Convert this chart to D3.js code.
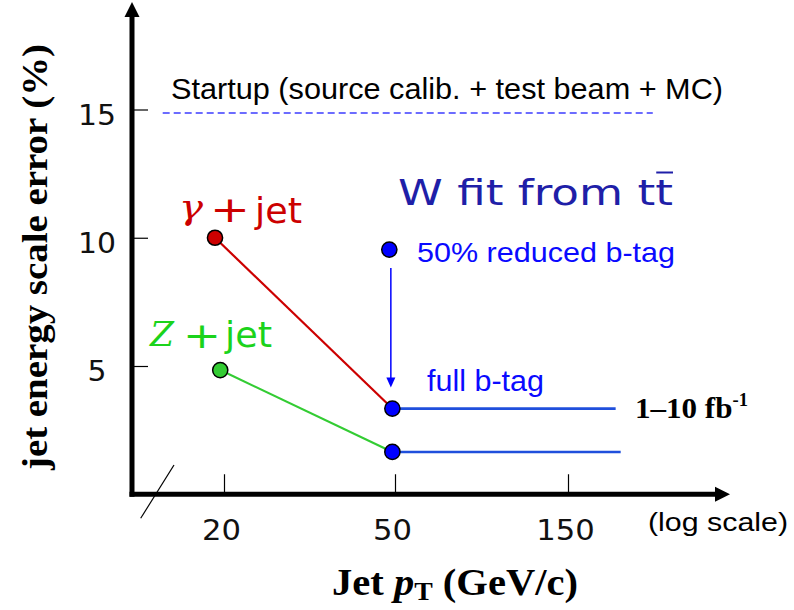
<!DOCTYPE html>
<html><head><meta charset="utf-8">
<script src="https://cdn.jsdelivr.net/npm/d3@7"></script>
<style>body{margin:0;background:#fff} svg{display:block}</style>
</head><body>
<svg id="chart" width="794" height="610"></svg>
<script>
// ---- data ----
const xTicks = [20, 50, 150];
const yTicks = [5, 10, 15];
const gammaPt = [19.06, 49.3];
const gammaErr = [10.0, 3.34];
const zPt = [19.6, 49.3];
const zErr = [4.84, 1.65];
const wFullPt = [49.3, 203];
const wFullErr = [3.34, 3.34];
const wLowPt = [49.3, 209.6];
const wLowErr = [1.65, 1.65];
const wReducedPt = [48.5];
const wReducedErr = [9.54];
const startupPt = [14.4, 257];
const startupErr = [14.86, 14.86];

const svg = d3.select("#chart");
const x = d3.scaleLog().domain(xTicks).range([224, 395, 568]);
const y = d3.scaleLinear().domain([0, 15]).range([494.25, 109.5]);
const ax0 = 132;          // y-axis position
const ay0 = y(0);         // x-axis position
const zip = (a, b) => a.map((v, i) => [v, b[i]]);
const line = d3.line().x(d => x(d[0])).y(d => y(d[1]));

// ---- axes ----
const yAxis = d3.axisLeft(y).tickValues(yTicks).tickSize(-16).tickFormat(d3.format("d"));
const gy = svg.append("g").attr("transform", `translate(${ax0},0)`).call(yAxis);
gy.select(".domain").remove();
gy.selectAll(".tick line").attr("stroke", "#000").attr("stroke-width", 1.2);
gy.selectAll(".tick text")
  .attr("x", -35).attr("dy", 0).attr("y", 14.5)
  .attr("text-anchor", "middle")
  .style("font-family", "'DejaVu Sans'").style("font-size", "28px").style("font-weight", "normal")
  .attr("fill", "#111")
  .attr("textLength", d => String(d).length * 19).attr("lengthAdjust", "spacingAndGlyphs");

const xAxis = d3.axisBottom(x).tickValues(xTicks).tickSize(-20).tickFormat(d3.format("d"));
const gx = svg.append("g").attr("transform", `translate(0,${ay0})`).call(xAxis);
gx.select(".domain").remove();
gx.selectAll(".tick line").attr("stroke", "#000").attr("stroke-width", 1.2);
gx.selectAll(".tick text")
  .attr("y", 46).attr("dy", 0).attr("dx", -3)
  .style("font-family", "'DejaVu Sans'").style("font-size", "28px").style("font-weight", "normal")
  .attr("fill", "#111")
  .attr("textLength", d => String(d).length * 19.5).attr("lengthAdjust", "spacingAndGlyphs");

// thick axis lines with arrowheads
svg.append("line").attr("x1", ax0).attr("x2", ax0).attr("y1", ay0 + 2.5).attr("y2", 16)
  .attr("stroke", "#000").attr("stroke-width", 5);
svg.append("path").attr("d", `M${ax0 - 7.5},17 L${ax0},2 L${ax0 + 7.5},17 Z`).attr("fill", "#000");
svg.append("line").attr("x1", ax0 - 2.5).attr("x2", 716).attr("y1", ay0).attr("y2", ay0)
  .attr("stroke", "#000").attr("stroke-width", 5);
svg.append("path").attr("d", `M715,${ay0 - 7.5} L730,${ay0} L715,${ay0 + 7.5} Z`).attr("fill", "#000");
// axis break mark
svg.append("line").attr("x1", 140.7).attr("y1", 518.3).attr("x2", 174).attr("y2", 465)
  .attr("stroke", "#000").attr("stroke-width", 1.2);

// ---- startup dashed line ----
svg.append("path").attr("d", line(zip(startupPt, startupErr)))
  .attr("fill", "none").attr("stroke", "#3c3cff").attr("stroke-width", 1.5)
  .attr("stroke-dasharray", "7,4");

// ---- lines ----
svg.append("path").attr("d", line(zip(gammaPt, gammaErr)))
  .attr("fill", "none").attr("stroke", "#cc0000").attr("stroke-width", 2.2);
svg.append("path").attr("d", line(zip(zPt, zErr)))
  .attr("fill", "none").attr("stroke", "#33cc33").attr("stroke-width", 2.2);
svg.append("path").attr("d", line(zip(wFullPt, wFullErr)))
  .attr("fill", "none").attr("stroke", "#1f4fdc").attr("stroke-width", 2.6);
svg.append("path").attr("d", line(zip(wLowPt, wLowErr)))
  .attr("fill", "none").attr("stroke", "#1f4fdc").attr("stroke-width", 2.6);

// ---- arrow from reduced b-tag to full b-tag ----
const arrX = x((wReducedPt[0] + wFullPt[0]) / 2);
const arrY1 = y(wReducedErr[0]) + 18.5;
const arrTip = y(wFullErr[0]) - 21;
svg.append("line").attr("x1", arrX).attr("x2", arrX).attr("y1", arrY1).attr("y2", arrTip - 8)
  .attr("stroke", "#0000ff").attr("stroke-width", 1.5);
svg.append("path").attr("d", `M${arrX - 4.5},${arrTip - 10} L${arrX},${arrTip} L${arrX + 4.5},${arrTip - 10} Z`)
  .attr("fill", "#0000ff");

// ---- points ----
function pts(px, py, fill) {
  svg.append("g").selectAll("circle").data(zip(px, py)).join("circle")
    .attr("cx", d => x(d[0])).attr("cy", d => y(d[1])).attr("r", 7.6)
    .attr("fill", fill).attr("stroke", "#000").attr("stroke-width", 1.5);
}
pts([gammaPt[0]], [gammaErr[0]], "#cc0000");
pts([zPt[0]], [zErr[0]], "#33cc33");
pts(wReducedPt, wReducedErr, "#0000ff");
pts([wFullPt[0]], [wFullErr[0]], "#0000ff");
pts([wLowPt[0]], [wLowErr[0]], "#0000ff");

// ---- texts ----
function txt(s, xx, yy, opts) {
  const t = svg.append("text").attr("x", xx).attr("y", yy).text(s)
    .style("font-family", opts.font || "'Liberation Sans', Arial, sans-serif")
    .style("font-size", (opts.size || 29) + "px")
    .style("font-weight", opts.weight || "normal")
    .attr("fill", opts.fill || "#000");
  if (opts.italic) t.style("font-style", "italic");
  if (opts.anchor) t.attr("text-anchor", opts.anchor);
  if (opts.len) t.attr("textLength", opts.len).attr("lengthAdjust", "spacingAndGlyphs");
  return t;
}
txt("Startup (source calib. + test beam + MC)", 171, 98.5, {size: 30, len: 552, fill: "#000"});

// gamma + jet
txt("\u03B3", 179, 219, {font: "'DejaVu Serif'", italic: true, size: 34, fill: "#cc0000", len: 24});
txt("+", 230, 222, {font: "'DejaVu Sans'", size: 36, fill: "#cc0000", anchor: "middle", len: 40});
txt("jet", 255, 223, {font: "'DejaVu Sans'", size: 35, fill: "#cc0000", len: 47});

// Z + jet
txt("Z", 150, 346, {font: "'DejaVu Serif'", italic: true, size: 33, fill: "#1bd31b", len: 24});
txt("+", 202, 348, {font: "'DejaVu Sans'", size: 36, fill: "#1bd31b", anchor: "middle", len: 38});
txt("jet", 225, 346.5, {font: "'DejaVu Sans'", size: 35, fill: "#1bd31b", len: 47});

// W fit from ttbar
const wt = txt("W fit from tt", 398, 205, {font: "'DejaVu Sans'", size: 36, fill: "#1f1fa8", len: 275});
const n = "W fit from tt".length;
const s0 = wt.node().getStartPositionOfChar(n - 1).x;
const s1 = wt.node().getEndPositionOfChar(n - 1).x;
svg.append("line").attr("x1", s0 + 1).attr("x2", s1).attr("y1", 172.5).attr("y2", 172.5)
  .attr("stroke", "#1f1fa8").attr("stroke-width", 2);

txt("50% reduced b-tag", 417, 262, {size: 28.5, fill: "#0a0aff", len: 258});
txt("full b-tag", 427, 391, {size: 29, fill: "#0a0aff", len: 117});

// 1-10 fb^-1
const fb = svg.append("text").attr("x", 635).attr("y", 418)
  .style("font-family", "'Liberation Serif', serif").style("font-weight", "bold").style("font-size", "30px")
  .attr("fill", "#000").attr("textLength", 113).attr("lengthAdjust", "spacingAndGlyphs");
fb.append("tspan").text("1\u201310 fb");
fb.append("tspan").text("-1").style("font-size", "18px").attr("dy", -12);

// log scale note
txt("(log scale)", 648, 531, {size: 26, len: 140});

// axis titles
svg.append("text")
  .attr("transform", "translate(47,257) rotate(-90)")
  .attr("text-anchor", "middle")
  .style("font-family", "'Liberation Serif', serif").style("font-weight", "bold").style("font-size", "36px")
  .attr("textLength", 426).attr("lengthAdjust", "spacingAndGlyphs")
  .text("jet energy scale error (%)");

const xt = svg.append("text").attr("x", 332).attr("y", 595)
  .style("font-family", "'Liberation Serif', serif").style("font-weight", "bold").style("font-size", "38px")
  .attr("textLength", 246).attr("lengthAdjust", "spacingAndGlyphs");
xt.append("tspan").text("Jet ");
xt.append("tspan").text("p").style("font-style", "italic");
xt.append("tspan").text("T").style("font-size", "26px").attr("dy", 5);
xt.append("tspan").text(" (GeV/c)").attr("dy", -5);
</script>
</body></html>
